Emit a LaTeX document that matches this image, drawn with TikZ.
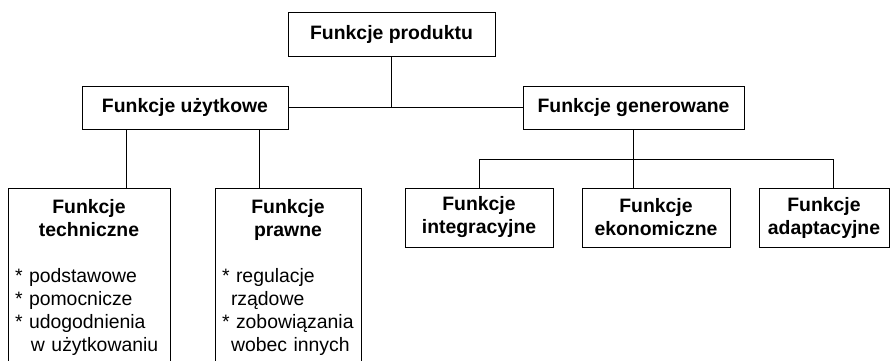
\documentclass[tikz,border=0pt]{standalone}
\usepackage{fontspec}
\setmainfont{Liberation Sans}
\usepackage{tikz}
\usetikzlibrary{calc, positioning}

\begin{document}
\begin{tikzpicture}[
    x=0.5pt, y=-0.5pt,
    every node/.style={draw, line width=0.5pt, align=center, inner sep=0pt,
      font=\fontsize{9.7}{11.5}\selectfont\bfseries},
    line/.style={line width=0.5pt},
    tall/.style={anchor=north, align=left, inner xsep=3.5pt, inner ysep=5.5pt,
      text depth=80pt, font=\fontsize{9.7}{11.5}\selectfont}
]
\useasboundingbox (0,0) rectangle (893,360);
\clip (0,0) rectangle (893,360);

% Nodes
\node[minimum width=103.5pt, minimum height=22pt] (P) at (391.5,34) {Funkcje produktu};
\node[minimum width=103pt, minimum height=21.5pt] (U) at (185,107.5) {Funkcje użytkowe};
\node[minimum width=110.5pt, minimum height=21.5pt] (G) at (633.5,107.5) {Funkcje generowane};

\node[tall, text width=74pt] (T) at (89,188)
  {{\centering\bfseries Funkcje\\techniczne\par}\vspace{11.5pt}
   {*} podstawowe\\{*} pomocnicze\\{*} udogodnienia\\\hspace*{8pt}w użytkowaniu};
\node[tall, text width=66pt] (R) at (288,188)
  {{\centering\bfseries Funkcje\\prawne\par}\vspace{11.5pt}
   {*} regulacje\\\hspace*{4.5pt}rządowe\\{*} zobowiązania\\\hspace*{4.5pt}wobec innych};

\node[minimum width=74pt, minimum height=29.5pt] (I) at (479,217.5) {Funkcje\\integracyjne};
\node[minimum width=74pt, minimum height=29.5pt] (E) at (656,217.5) {Funkcje\\ekonomiczne};
\node[minimum width=65pt, minimum height=29.5pt] (A) at (824,217.5) {Funkcje\\adaptacyjne};

% Lines
\draw[line] (P.south) -- (P.south |- U.east);
\draw[line] (U.east) -- (G.west);

\coordinate (u1) at ([xshift=-29.5pt]U.south);
\coordinate (u2) at ([xshift=37pt]U.south);
\draw[line] (u1) -- (u1 |- T.north);
\draw[line] (u2) -- (u2 |- R.north);

\coordinate (gh) at ([yshift=-15pt]G.south);
\coordinate (a1) at ([xshift=4.5pt]A.north);
\draw[line] (G.south) -- (G.south |- E.north);
\draw[line] (I.north) |- (gh) -| (a1);

\end{tikzpicture}
\end{document}
